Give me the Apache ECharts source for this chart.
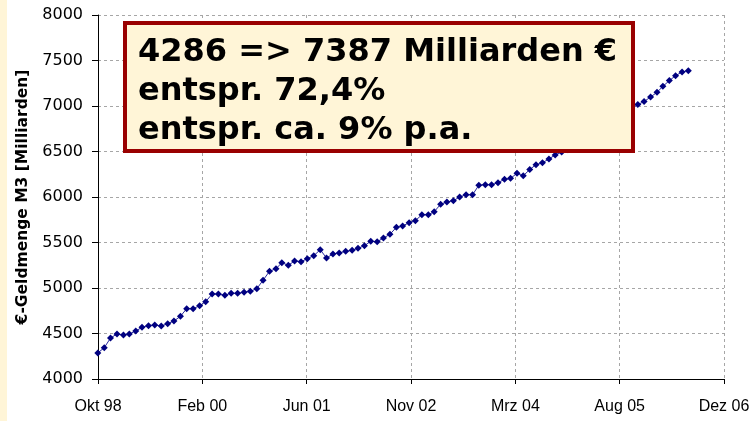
<!DOCTYPE html>
<html>
<head>
<meta charset="utf-8">
<script src="https://cdn.jsdelivr.net/npm/echarts@6/dist/echarts.min.js"></script>
<style>
  html, body { margin: 0; padding: 0; background: #fff; }
  #chart { width: 755px; height: 421px; }
</style>
</head>
<body>
<div id="chart"></div>
<script>
// monatliche Werte, Ende Sep 98 bis Ende Jun 06 (Mrd. EUR)
const firstMonth = [1998, 9]
const m3Values = [
  4286, 4344, 4450, 4495, 4484, 4495, 4527, 4568, 4586, 4593,
  4582, 4608, 4637, 4689, 4773, 4773, 4805, 4850, 4934, 4934,
  4920, 4942, 4942, 4953, 4964, 4992, 5085, 5184, 5212, 5278,
  5250, 5297, 5289, 5322, 5355, 5421, 5330, 5374, 5385, 5403,
  5414, 5436, 5465, 5513, 5509, 5549, 5590, 5667, 5681, 5718,
  5740, 5805, 5805, 5838, 5920, 5945, 5959, 6000, 6025, 6025,
  6129, 6135, 6135, 6157, 6195, 6205, 6260, 6233, 6302, 6355,
  6376, 6418, 6462, 6495, 6520, 6555, 6600, 6640, 6690, 6730,
  6770, 6820, 6870, 6920, 6965, 7016, 7049, 7099, 7150, 7216,
  7279, 7333, 7374, 7387
]
// Achse: Tage ab 1.10.1998, Hauptintervall 500 Tage
const axisStart = Date.UTC(1998, 9, 1)
const xTickLabels = ['Okt 98', 'Feb 00', 'Jun 01', 'Nov 02', 'Mrz 04', 'Aug 05', 'Dez 06']
const yTicks = { min: 4000, max: 8000, step: 500 }
const boxText = '4286 => 7387 Milliarden €\nentspr. 72,4%\nentspr. ca. 9% p.a.'

const seriesData = m3Values.map(function (v, i) {
  const y = firstMonth[0]
  const m = firstMonth[1] + i
  // letzter Tag des Monats
  const day = (Date.UTC(y, m, 0) - axisStart) / 864e5
  return [day, v]
})

const chart = echarts.init(document.getElementById('chart'))
chart.setOption({
  animation: false,
  backgroundColor: '#ffffff',
  grid: {
    left: 98,
    right: 31,
    top: 15,
    bottom: 42
  },
  xAxis: {
    type: 'value',
    min: 0,
    max: 3000,
    interval: 500,
    axisLine: { lineStyle: { color: '#000', width: 1 } },
    axisTick: { show: true, length: 5, lineStyle: { color: '#000' } },
    axisLabel: {
      margin: 20,
      color: '#000',
      fontSize: 16,
      fontFamily: "'Liberation Sans Narrow', 'Liberation Sans', sans-serif",
      formatter: function (v) {
        return xTickLabels[Math.round(v / 500)]
      }
    },
    splitLine: {
      show: true,
      lineStyle: { color: '#a6a6a6', type: [3, 3], width: 1 }
    }
  },
  yAxis: {
    type: 'value',
    min: yTicks.min,
    max: yTicks.max,
    interval: yTicks.step,
    name: '€-Geldmenge M3 [Milliarden]',
    nameLocation: 'middle',
    nameGap: 64,
    nameTextStyle: {
      color: '#000',
      fontSize: 15.5,
      fontWeight: 'bold',
      fontFamily: "'DejaVu Sans', sans-serif"
    },
    axisLine: { show: true, lineStyle: { color: '#000', width: 1 } },
    axisTick: { show: true, length: 6, lineStyle: { color: '#000' } },
    axisLabel: {
      margin: 15,
      color: '#000',
      fontSize: 16,
      fontFamily: "'DejaVu Sans', sans-serif",
      formatter: function (v) { return String(v) }
    },
    splitLine: {
      show: true,
      lineStyle: { color: '#a6a6a6', type: [3, 3], width: 1 }
    }
  },
  graphic: [
    {
      type: 'rect',
      left: 0,
      top: 0,
      shape: { width: 7, height: 421 },
      style: { fill: '#fff5d7' },
      z: 0
    },
    {
      type: 'rect',
      shape: { x: 125, y: 23, width: 508, height: 128 },
      style: { fill: '#fff5d7', stroke: '#990000', lineWidth: 4 },
      z: 100
    },
    {
      type: 'text',
      x: 138,
      y: 33,
      style: {
        text: boxText,
        fill: '#000',
        font: "bold 32px 'DejaVu Sans', sans-serif",
        lineHeight: 39
      },
      z: 101
    }
  ],
  series: [{
    type: 'line',
    data: seriesData,
    clip: false,
    symbol: 'diamond',
    symbolSize: 7,
    itemStyle: { color: '#000080', borderWidth: 0 },
    lineStyle: { color: '#2a2aa0', width: 1 },
    z: 5
  }]
})
</script>
</body>
</html>
